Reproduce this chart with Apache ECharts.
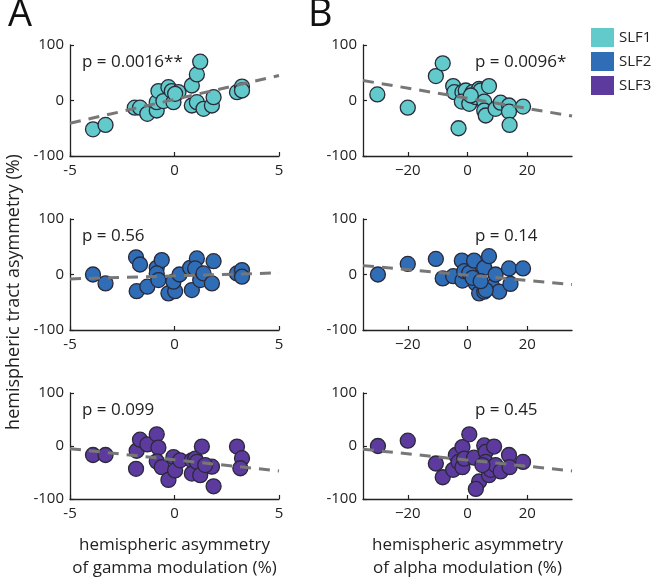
<!DOCTYPE html>
<html>
<head>
<meta charset="utf-8">
<script src="https://cdn.jsdelivr.net/npm/echarts@6/dist/echarts.min.js"></script>
<style>
  html, body { margin: 0; padding: 0; background: #fff; }
  #chart { width: 652px; height: 581px; }
</style>
</head>
<body>
<div id="chart"></div>
<script>
// tracts
var tracts = ['SLF1', 'SLF2', 'SLF3'];
var tractColors = ['#62CACA', '#2F6DB6', '#5D3A9E'];

// gamma modulation asymmetry (%) vs tract asymmetry (%)
var gammaSlf1 = [[-3.9,-52],[-3.3,-44],[-1.9,-13],[-1.65,-13],[-1.3,-24],[-0.85,-18],[-0.85,-3],[-0.77,17],[-0.53,-1],[-0.29,24],[-0.13,17],[-0.05,-3],[0.19,15],[0.03,12],[0.83,27],[1.07,47],[1.23,70],[0.83,-9],[1.07,-3],[1.39,-15],[1.79,-9],[1.87,6],[2.99,15],[3.23,25],[3.23,18]];
var gammaSlf2 = [[-3.9,0],[-3.3,-16],[-1.84,31],[-1.65,18],[-1.81,-30],[-1.3,-22],[-0.85,12],[-0.61,26],[-0.85,2],[-0.77,-10],[-0.29,-34],[0.03,-30],[-0.05,-13],[0.24,0],[0.75,12],[1.07,29],[0.99,11],[0.83,-28],[1.23,-10],[1.39,2],[1.79,-16],[1.87,24],[2.99,2],[3.23,8],[3.23,-4]];
var gammaSlf3 = [[-3.9,-17],[-3.3,-17],[-1.81,-9],[-1.65,12],[-1.3,3],[-1.84,-43],[-0.85,22],[-0.77,-3],[-0.85,-29],[-0.61,-40],[-0.29,-64],[-0.05,-21],[0.03,-46],[0.27,-27],[0.83,-27],[0.83,-52],[0.99,-24],[1.07,-30],[1.23,-55],[1.31,-1],[1.79,-39],[1.87,-76],[2.99,-1],[3.23,-23],[3.15,-42],[1.47,-36]];

// alpha modulation asymmetry (%) vs tract asymmetry (%)
var alphaSlf1 = [[-30.2,11],[-20,-13],[-10.6,44],[-8.3,67],[-4.8,26],[-4.4,15],[-3,-50],[-1.7,15],[-0.6,18],[-1.9,-2],[0.6,-6],[1.7,15],[2.8,6],[3.9,21],[4.4,18],[5.6,-2],[5.6,-18],[6.1,-27],[7.2,26],[9.4,-15],[11.1,-4],[13.9,-9],[13.9,-20],[14.1,-44],[18.6,-11],[1.1,9]];
var alphaSlf2 = [[-30,0],[-20,19],[-10.6,28],[-8.3,-7],[-4.8,-3],[-1.9,25],[-1.7,-11],[-1.1,6],[0.6,3],[2.2,25],[2.8,-16],[3.9,-34],[5.6,12],[5.6,-31],[7.2,33],[8.3,-22],[9.4,0],[10.6,-31],[13.9,11],[14.4,-17],[18.6,11],[6.1,-28],[1.7,-6],[4.4,-12]];
var alphaSlf3 = [[-30,0],[-20,10],[-10.6,-33],[-8.3,-59],[-4.8,-45],[-3.9,-17],[-3,-30],[-1.7,-2],[-1.7,-40],[-1.1,-24],[0.6,22],[2.2,-22],[3.9,-67],[2.8,-81],[5.6,1],[6.1,-11],[6.1,-30],[7.2,-55],[7.8,-45],[8.9,-1],[9.4,-36],[11.1,-48],[13.9,-17],[14.1,-40],[18.6,-30],[5,-36]];

// fitted line end points
var gammaFits = [[[-5,-41],[5,45]], [[-5,-8],[5,3]], [[-5,-5],[5,-47]]];
var alphaFits = [[[-35,36],[35,-28]], [[-35,16],[35,-18]], [[-35,-6],[35,-47]]];

var gammaP = ['p = 0.0016**', 'p = 0.56', 'p = 0.099'];
var alphaP = ['p = 0.0096*', 'p = 0.14', 'p = 0.45'];

var gammaTicks = [-5, 0, 5];
var alphaTicks = [-20, 0, 20];

var FONT = '"Open Sans", sans-serif';
var rowTops = [45, 219, 393];
var rowH = 111;
var colLefts = [70, 363];
var colW = 209;
var pLefts = [82, 475];

var chart = echarts.init(document.getElementById('chart'));

var grids = [], xAxes = [], yAxes = [], series = [], graphics = [];
var panels = [
  {data: gammaSlf1, fit: gammaFits[0], p: gammaP[0], col: 0, row: 0},
  {data: gammaSlf2, fit: gammaFits[1], p: gammaP[1], col: 0, row: 1},
  {data: gammaSlf3, fit: gammaFits[2], p: gammaP[2], col: 0, row: 2},
  {data: alphaSlf1, fit: alphaFits[0], p: alphaP[0], col: 1, row: 0},
  {data: alphaSlf2, fit: alphaFits[1], p: alphaP[1], col: 1, row: 1},
  {data: alphaSlf3, fit: alphaFits[2], p: alphaP[2], col: 1, row: 2}
];

var axisLine = {show: true, onZero: false, lineStyle: {color: '#222', width: 1.3}};
var tick = {show: true, inside: true, length: 4, lineStyle: {color: '#222', width: 1.2}};
var labelStyle = {color: '#222', fontFamily: FONT, fontSize: 15};

panels.forEach(function (pn, i) {
  grids.push({left: colLefts[pn.col], top: rowTops[pn.row], width: colW, height: rowH});
  var isGamma = pn.col === 0;
  var xa = {
    type: 'value', gridIndex: i,
    min: isGamma ? -5 : -35, max: isGamma ? 5 : 35,
    axisLine: axisLine,
    axisTick: Object.assign({customValues: isGamma ? gammaTicks : alphaTicks}, tick),
    axisLabel: Object.assign({
      customValues: isGamma ? gammaTicks : alphaTicks,
      margin: 7,
      formatter: function (v) { return isGamma ? String(v) : String(v).replace('-', '\u2212'); }
    }, labelStyle),
    splitLine: {show: false}
  };
  if (pn.row === 2) {
    xa.name = isGamma ? 'hemispheric asymmetry\nof gamma modulation (%)'
                      : 'hemispheric asymmetry\nof alpha modulation (%)';
    xa.nameLocation = 'middle';
    xa.nameGap = 35;
    xa.nameTextStyle = {color: '#222', fontFamily: FONT, fontSize: 17, lineHeight: 23, verticalAlign: 'top'};
  }
  xAxes.push(xa);
  yAxes.push({
    type: 'value', gridIndex: i, min: -100, max: 100, interval: 100,
    axisLine: axisLine,
    axisTick: tick,
    axisLabel: Object.assign({margin: 6}, labelStyle),
    splitLine: {show: false}
  });
  series.push({
    name: tracts[pn.row], type: 'scatter', xAxisIndex: i, yAxisIndex: i,
    data: pn.data, symbolSize: 15, z: 2,
    itemStyle: {color: tractColors[pn.row], borderColor: '#2a2a3a', borderWidth: 1.3, opacity: 1}
  });
  series.push({
    type: 'line', xAxisIndex: i, yAxisIndex: i, data: pn.fit, symbol: 'none', z: 3,
    silent: true,
    lineStyle: {color: '#777', width: 3, type: [11, 8]}
  });
  graphics.push({
    type: 'text',
    left: pLefts[pn.col],
    top: rowTops[pn.row] + 9,
    style: {text: pn.p, fontFamily: FONT, fontSize: 17, fill: '#222'}
  });
});

graphics.push({type: 'text', left: 8, top: -4, style: {text: 'A', fontFamily: FONT, fontSize: 38, fill: '#111'}});
graphics.push({type: 'text', left: 308, top: -4, style: {text: 'B', fontFamily: FONT, fontSize: 38, fill: '#111'}});
graphics.push({
  type: 'text', x: 5, y: 292, rotation: Math.PI / 2,
  style: {text: 'hemispheric tract asymmetry (%)', fontFamily: FONT, fontSize: 18, fill: '#222',
          align: 'center', verticalAlign: 'top'}
});

chart.setOption({
  animation: false,
  grid: grids,
  xAxis: xAxes,
  yAxis: yAxes,
  legend: {
    data: tracts, orient: 'vertical', left: 586, top: 23,
    icon: 'rect', itemWidth: 23, itemHeight: 19, itemGap: 5,
    itemStyle: {borderWidth: 0},
    textStyle: {color: '#222', fontFamily: FONT, fontSize: 15}
  },
  graphic: graphics,
  series: series
});
</script>
</body>
</html>
